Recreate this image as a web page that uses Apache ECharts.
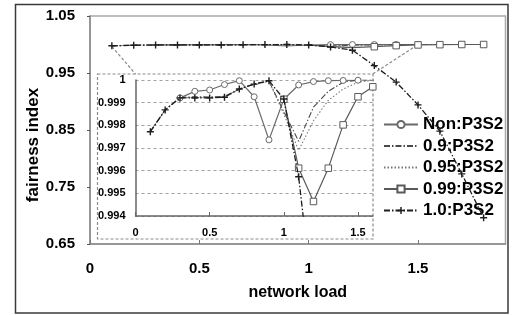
<!DOCTYPE html>
<html>
<head>
<meta charset="utf-8">
<script src="https://cdn.jsdelivr.net/npm/echarts@6/dist/echarts.min.js"></script>
<style>
html,body{margin:0;padding:0;background:#fff;}
#c{width:520px;height:315px;}
</style>
</head>
<body>
<div id="c"></div>
<script>
// ---- data ----
const loads = [0.1,0.2,0.3,0.4,0.5,0.6,0.7,0.8,0.9,1.0,1.1,1.2,1.3,1.4,1.5,1.6,1.7,1.8];
const seriesNames = ['Non:P3S2','0.9:P3S2','0.95:P3S2','0.99:P3S2','1.0:P3S2'];
const nonP3S2  = [null,null,0.99921,0.9995,0.99956,0.9998,0.99997,0.99926,0.99736,0.99915,0.99978,0.99993,0.99997,0.99998,0.99999,null,null,null];
const p090P3S2 = [0.99772,0.99868,0.99923,0.99926,0.99925,0.99928,0.9996,0.99982,0.99995,0.9986,0.9973,0.9988,0.9995,0.9999,1.0,1.0,1.0,1.0];
const p095P3S2 = [0.99772,0.99868,0.99921,0.99923,0.99923,0.99926,0.9996,0.9998,0.99994,0.9985,0.9969,0.9982,0.9991,0.9996,0.9999,1.0,1.0,1.0];
const p099P3S2 = [null,null,null,null,null,null,null,null,null,0.99915,0.99611,0.99464,0.99611,0.99802,0.99926,0.9997,1.0,1.0];
const p100P3S2 = [0.99772,0.99868,0.99921,0.99921,0.99921,0.99924,0.9996,0.99982,0.99997,0.99916,0.99573,0.990,0.963,0.934,0.894,0.848,0.773,0.696];
const mainXTicks = [0,0.5,1,1.5];
const mainYTicks = [0.65,0.75,0.85,0.95,1.05];
const insetXTicks = [0,0.5,1,1.5];

// ---- styles ----
const FONT = "'Liberation Sans', Arial, sans-serif";
const plusPath = 'path://M4,0H6V4H10V6H6V10H4V6H0V4H4Z';
const styles = {
  'Non:P3S2':  {color:'#6a6a6a', type:'solid', width:1.2, symbol:'circle', size:6, fill:'#fff', mainFrom:1.05},
  '0.9:P3S2':  {color:'#4a4a4a', type:[6,2,1.5,2], width:1.1, symbol:'none', size:0},
  '0.95:P3S2': {color:'#777777', type:[1.5,2], width:1.1, symbol:'none', size:0},
  '0.99:P3S2': {color:'#5a5a5a', type:'solid', width:1.2, symbol:'rect', size:6.5, fill:'#fff', mainFrom:1.25},
  '1.0:P3S2':  {color:'#1e1e1e', type:[6,2,1.5,2], width:1.3, symbol:plusPath, size:7, fill:'#1e1e1e'}
};
const values = {
  'Non:P3S2': nonP3S2, '0.9:P3S2': p090P3S2, '0.95:P3S2': p095P3S2,
  '0.99:P3S2': p099P3S2, '1.0:P3S2': p100P3S2
};

function pairs(arr, hideBelow) {
  const out = [];
  loads.forEach((x, i) => {
    if (arr[i] == null) return;
    if (hideBelow != null && x < hideBelow) out.push({value:[x, arr[i]], symbol:'none'});
    else out.push([x, arr[i]]);
  });
  return out;
}

function makeSeries(name, idx, isInset) {
  const s = styles[name];
  return {
    name: name,
    type: 'line',
    xAxisIndex: idx, yAxisIndex: idx,
    data: pairs(values[name], isInset ? null : s.mainFrom),
    symbol: s.symbol,
    symbolSize: s.size,
    showSymbol: s.symbol !== 'none',
    clip: true,
    z: name === '1.0:P3S2' ? 5 : 3,
    lineStyle: {color: s.color, type: s.type, width: s.width},
    itemStyle: {color: s.fill || s.color, borderColor: s.color, borderWidth: s.symbol === plusPath ? 0 : 1},
    emphasis: {disabled: true},
    animation: false
  };
}

const series = [];
seriesNames.forEach(n => series.push(makeSeries(n, 0, false)));
seriesNames.forEach(n => series.push(makeSeries(n, 1, true)));

const legendData = seriesNames.map(n => styles[n].symbol === 'none'
  ? {name: n, itemStyle: {opacity: 0, color: 'rgba(0,0,0,0)', borderWidth: 0}}
  : {name: n});

const tickFmt2 = v => Number(v).toFixed(2);
const trim = v => String(+Number(v).toFixed(3));

const chart = echarts.init(document.getElementById('c'), null, {renderer:'canvas'});
const option = {
  animation: false,
  backgroundColor: '#fff',
  textStyle: {fontFamily: FONT},
  grid: [
    {left: 90, top: 16, width: 415.5, height: 228, show: true, borderColor: '#a8a8a8', borderWidth: 1.5, backgroundColor: 'transparent'},
    {left: 135.5, top: 80, width: 237.3, height: 136, show: false}
  ],
  xAxis: [
    {type:'value', gridIndex:0, min:0, max:1.9,
     name:'network load', nameLocation:'middle', nameGap:41,
     nameTextStyle:{fontFamily:FONT, fontWeight:'bold', fontSize:16, color:'#000'},
     axisLine:{show:true, lineStyle:{color:'#8a8a8a', width:1.5}},
     axisTick:{show:true, inside:true, length:4, customValues: mainXTicks, lineStyle:{color:'#777'}},
     axisLabel:{customValues: mainXTicks, margin:17, fontFamily:FONT, fontWeight:'bold', fontSize:15, color:'#000', formatter: v => String(+v)},
     splitLine:{show:false}},
    {type:'value', gridIndex:1, min:0, max:1.6,
     axisLine:{show:true, lineStyle:{color:'#666', width:1.5}},
     axisTick:{show:true, inside:true, length:4, customValues: insetXTicks, lineStyle:{color:'#666'}},
     axisLabel:{customValues: insetXTicks, margin:11, fontFamily:FONT, fontWeight:'bold', fontSize:11, color:'#000', formatter: v => String(+v)},
     splitLine:{show:false}}
  ],
  yAxis: [
    {type:'value', gridIndex:0, min:0.65, max:1.05,
     axisLine:{show:true, lineStyle:{color:'#8a8a8a', width:1.5}},
     axisTick:{show:true, length:3, customValues: mainYTicks, lineStyle:{color:'#555'}},
     axisLabel:{customValues: mainYTicks, margin:15, fontFamily:FONT, fontWeight:'bold', fontSize:15, color:'#000', formatter: tickFmt2},
     splitLine:{show:false}},
    {type:'value', gridIndex:1, min:0.994, max:1, interval:0.001,
     axisLine:{show:true, lineStyle:{color:'#666', width:1.5}},
     axisTick:{show:false},
     axisLabel:{margin:10, fontFamily:FONT, fontWeight:'bold', fontSize:11, color:'#000', formatter: trim},
     splitLine:{show:true, lineStyle:{color:'#a0a0a0', type:[3,3], width:1}}}
  ],
  legend: {
    data: legendData,
    orient: 'vertical',
    left: 378, top: 111,
    itemWidth: 34, itemHeight: 9, itemGap: 4.5,
    textStyle: {fontFamily: FONT, fontWeight: 'bold', fontSize: 17, color: '#000', lineHeight: 17},
    selectedMode: false
  },
  graphic: [
    {type:'rect', id:'outer', shape:{x:15.5, y:4.5, width:492.5, height:308.5}, style:{fill:null, stroke:'#3a3a3a', lineWidth:1.5}, z:-1, silent:true},
    {type:'rect', id:'insetBox', shape:{x:97.5, y:74, width:275.5, height:165}, style:{fill:'#fff', stroke:'#8a8a8a', lineWidth:1.2, lineDash:[3,2]}, z:0, silent:true},
    {type:'text', id:'ytitle', x:33, y:145, rotation:Math.PI/2,
     style:{text:'fairness index', fontFamily:FONT, fontWeight:'bold', fontSize:17, fill:'#000', align:'center', verticalAlign:'middle'}, silent:true}
  ],
  series: series
};
chart.setOption(option);

// connector lines between the zoomed region of the main chart and the inset box
const a1 = chart.convertToPixel({gridIndex:0}, [loads[0], 1.0]);
const a2 = chart.convertToPixel({gridIndex:0}, [1.5, 1.0]);
const b1 = chart.convertToPixel({gridIndex:1}, [0, 1.0]);
const b2 = chart.convertToPixel({gridIndex:1}, [1.6, 1.0]);
const boxTop = 74;
chart.setOption({
  graphic: [
    {type:'line', id:'conn1', shape:{x1:a1[0], y1:a1[1]+2, x2:b1[0], y2:boxTop}, style:{stroke:'#8a8a8a', lineWidth:1.2, lineDash:[3,2]}, z:1, silent:true},
    {type:'line', id:'conn2', shape:{x1:b2[0], y1:boxTop, x2:a2[0], y2:a2[1]}, style:{stroke:'#8a8a8a', lineWidth:1.2, lineDash:[3,2]}, z:1, silent:true}
  ]
});
</script>
</body>
</html>
